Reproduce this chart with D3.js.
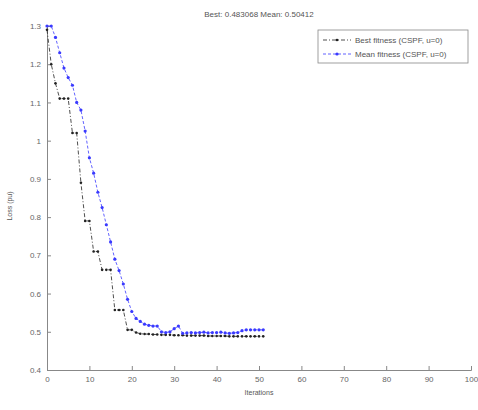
<!DOCTYPE html>
<html>
<head>
<meta charset="utf-8">
<script src="https://cdn.jsdelivr.net/npm/d3@7"></script>
<style>
  body { margin: 0; background: #fff; }
  text { font-family: "Liberation Sans", Arial, sans-serif; fill: #555; }
</style>
</head>
<body>
<div id="chart"></div>
<script>

var iterations = d3.range(0, 52);

// best fitness per iteration
var bestFitness = [1.29, 1.20, 1.15, 1.11, 1.11, 1.11, 1.02, 1.02, 0.89, 0.79,
                   0.79, 0.71, 0.71, 0.662, 0.662, 0.662, 0.557, 0.557, 0.557, 0.505,
                   0.505, 0.498, 0.495, 0.494, 0.494, 0.493, 0.493, 0.492, 0.492, 0.492,
                   0.491, 0.491, 0.491, 0.490, 0.490, 0.490, 0.490, 0.490, 0.489, 0.489,
                   0.489, 0.489, 0.489, 0.488, 0.488, 0.488, 0.488, 0.488, 0.488, 0.488,
                   0.488, 0.488];

// mean fitness per iteration
var meanFitness = [1.30, 1.30, 1.27, 1.23, 1.19, 1.165, 1.145, 1.10, 1.08, 1.025,
                   0.955, 0.915, 0.865, 0.825, 0.78, 0.735, 0.69, 0.66, 0.625, 0.585,
                   0.553, 0.535, 0.527, 0.52, 0.517, 0.515, 0.515, 0.50, 0.498, 0.50,
                   0.508, 0.515, 0.496, 0.497, 0.498, 0.497, 0.498, 0.499, 0.497, 0.498,
                   0.498, 0.499, 0.497, 0.496, 0.497, 0.498, 0.503, 0.505, 0.505, 0.505,
                   0.505, 0.505];

var xTicks = [0, 10, 20, 30, 40, 50, 60, 70, 80, 90, 100];
var yTicks = [0.4, 0.5, 0.6, 0.7, 0.8, 0.9, 1, 1.1, 1.2, 1.3];

var titleText = "Best: 0.483068 Mean: 0.50412";
var legendLabels = ["Best fitness (CSPF, u=0)", "Mean fitness (CSPF, u=0)"];

var margin = {top: 26, right: 7, bottom: 40, left: 47},
    width = 478 - margin.left - margin.right,
    height = 410 - margin.top - margin.bottom;

var svg = d3.select("#chart").append("svg")
    .attr("width", 478)
    .attr("height", 410)
  .append("g")
    .attr("transform", "translate(" + margin.left + "," + margin.top + ")");

var x = d3.scaleLinear().domain([0, 100]).range([0, width]);
var y = d3.scaleLinear().domain([0.4, 1.3]).range([height, 0]);

// axes, ticks pointing inward like matlab
var xAxis = d3.axisBottom(x).tickValues(xTicks).tickSize(-4).tickPadding(6)
    .tickFormat(d3.format("d"));
var yAxis = d3.axisLeft(y).tickValues(yTicks).tickSize(-4).tickPadding(6)
    .tickFormat(function(d) { return d; });

var gx = svg.append("g")
    .attr("transform", "translate(0," + height + ")")
    .call(xAxis);
var gy = svg.append("g").call(yAxis);

[gx, gy].forEach(function(g) {
  g.select(".domain").attr("stroke", "#888");
  g.selectAll(".tick line").attr("stroke", "#888");
  g.selectAll(".tick text").style("font-size", "8px").style("fill", "#666");
});

// title and labels
svg.append("text")
    .attr("x", width / 2)
    .attr("y", -9)
    .attr("text-anchor", "middle")
    .style("font-size", "8px")
    .text(titleText);

svg.append("text")
    .attr("x", width / 2)
    .attr("y", height + 25)
    .attr("text-anchor", "middle")
    .style("font-size", "7px")
    .text("Iterations");

svg.append("text")
    .attr("transform", "rotate(-90)")
    .attr("x", -(height / 2) - 8)
    .attr("y", -35)
    .attr("text-anchor", "middle")
    .style("font-size", "7px")
    .text("Loss (pu)");

var series = [
  {name: legendLabels[0], values: bestFitness, color: "#222", dash: "4,2,1,2", r: 1.3},
  {name: legendLabels[1], values: meanFitness, color: "#3a3aff", dash: "3,2", r: 1.6}
];

var line = d3.line()
    .x(function(d) { return x(d[0]); })
    .y(function(d) { return y(d[1]); });

series.forEach(function(s) {
  var pts = iterations.map(function(i) { return [i, s.values[i]]; });
  svg.append("path")
      .datum(pts)
      .attr("fill", "none")
      .attr("stroke", s.color)
      .attr("stroke-width", 0.8)
      .attr("stroke-dasharray", s.dash)
      .attr("d", line);
  svg.selectAll(null)
      .data(pts).enter()
      .append("circle")
      .attr("cx", function(d) { return x(d[0]); })
      .attr("cy", function(d) { return y(d[1]); })
      .attr("r", s.r)
      .attr("fill", s.color);
});

// legend box
var legend = svg.append("g").attr("transform", "translate(" + (width - 153) + ",4)");
legend.append("rect")
    .attr("width", 150)
    .attr("height", 33)
    .attr("fill", "#fff")
    .attr("stroke", "#888")
    .attr("stroke-width", 0.8);

series.forEach(function(s, i) {
  var ly = 10 + i * 14;
  legend.append("line")
      .attr("x1", 5).attr("x2", 33)
      .attr("y1", ly).attr("y2", ly)
      .attr("stroke", s.color)
      .attr("stroke-width", 0.8)
      .attr("stroke-dasharray", s.dash);
  legend.append("circle")
      .attr("cx", 19).attr("cy", ly).attr("r", s.r)
      .attr("fill", s.color);
  legend.append("text")
      .attr("x", 37)
      .attr("y", ly + 3)
      .style("font-size", "8px")
      .text(s.name);
});

</script>
</body>
</html>
